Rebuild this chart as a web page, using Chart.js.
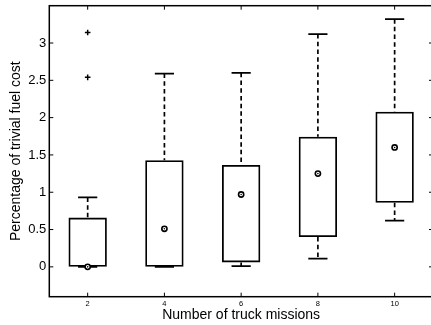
<!DOCTYPE html>
<html>
<head>
<meta charset="utf-8">
<script src="https://cdn.jsdelivr.net/npm/chart.js@4.4.1/dist/chart.umd.min.js"></script>
<style>
  html, body { margin: 0; padding: 0; background: #fff; overflow: hidden; }
</style>
</head>
<body>
<canvas id="boxChart" width="434" height="325"></canvas>
<script>
// Dados

const missions = [2, 4, 6, 8, 10];
const lowerWhisker = [0, 0, 0.01, 0.11, 0.62];
const lowerQuartile = [0, 0, 0.06, 0.40, 0.86];
const medians = [0, 0.51, 0.97, 1.25, 1.60];
const upperQuartile = [0.66, 1.43, 1.365, 1.745, 2.08];
const upperWhisker = [0.93, 2.59, 2.60, 3.12, 3.32];
const outlierMission = [2, 2];
const outlierValue = [2.54, 3.14];
const yTicks = [0, 0.5, 1, 1.5, 2, 2.5, 3];

const capHalf = 0.25; // half width of whisker caps, in x units
const font = '"Liberation Sans", Arial, Helvetica, sans-serif';

// whiskers (dashed) and caps, separated by gaps
const whiskerPts = [];
const capPts = [];
missions.forEach((m, i) => {
    whiskerPts.push({x: m, y: upperWhisker[i]}, {x: m, y: upperQuartile[i]}, {x: m, y: null});
    whiskerPts.push({x: m, y: lowerQuartile[i]}, {x: m, y: lowerWhisker[i]}, {x: m, y: null});
    capPts.push({x: m - capHalf, y: upperWhisker[i]}, {x: m + capHalf, y: upperWhisker[i]}, {x: m, y: null});
    capPts.push({x: m - capHalf, y: lowerWhisker[i]}, {x: m + capHalf, y: lowerWhisker[i]}, {x: m, y: null});
});

const data = {
    datasets: [
        {
            type: 'bar',
            data: missions.map((m, i) => ({x: m, y: [lowerQuartile[i], upperQuartile[i]]})),
            backgroundColor: 'rgba(0,0,0,0)',
            borderColor: '#000',
            borderWidth: 1.8,
            borderSkipped: false,
            barPercentage: 0.5,
            categoryPercentage: 1,
            order: 3
        },
        {
            type: 'line',
            data: whiskerPts,
            borderColor: '#000',
            borderWidth: 1.7,
            borderDash: [4.5, 3.2],
            pointRadius: 0,
            spanGaps: false,
            fill: false,
            order: 4
        },
        {
            type: 'line',
            data: capPts,
            borderColor: '#000',
            borderWidth: 1.8,
            pointRadius: 0,
            spanGaps: false,
            fill: false,
            order: 4
        },
        {
            type: 'line',
            data: missions.map((m, i) => ({x: m, y: medians[i]})),
            showLine: false,
            pointStyle: 'circle',
            pointRadius: 2.6,
            pointBorderWidth: 1.6,
            pointBorderColor: '#000',
            pointBackgroundColor: '#fff',
            order: 1
        },
        {
            type: 'line',
            data: missions.map((m, i) => ({x: m, y: medians[i]})),
            showLine: false,
            pointStyle: 'circle',
            pointRadius: 0.8,
            pointBorderWidth: 0,
            pointBackgroundColor: '#000',
            order: 0
        },
        {
            type: 'line',
            data: outlierMission.map((m, i) => ({x: m, y: outlierValue[i]})),
            showLine: false,
            pointStyle: 'cross',
            pointRadius: 2.8,
            pointBorderWidth: 1.5,
            pointBorderColor: '#000',
            order: 0
        }
    ]
};

// moldura e marcas internas
const frame = {
    id: 'frame',
    afterDatasetsDraw(chart) {
        const {ctx, chartArea: a, scales: {x, y}} = chart;
        const t = 4;
        ctx.save();
        ctx.strokeStyle = '#000';
        ctx.lineWidth = 1.5;
        ctx.strokeRect(a.left, a.top, a.right - a.left, a.bottom - a.top);
        ctx.lineWidth = 1;
        ctx.beginPath();
        yTicks.forEach(v => {
            const py = y.getPixelForValue(v);
            ctx.moveTo(a.left, py); ctx.lineTo(a.left + t, py);
            ctx.moveTo(a.right, py); ctx.lineTo(a.right - t, py);
        });
        missions.forEach(v => {
            const px = x.getPixelForValue(v);
            ctx.moveTo(px, a.bottom); ctx.lineTo(px, a.bottom - t);
            ctx.moveTo(px, a.top); ctx.lineTo(px, a.top + t);
        });
        ctx.stroke();
        ctx.restore();
    }
};

// Configurações

const config = {
    type: 'bar',
    data: data,
    options: {
        responsive: false,
        animation: false,
        layout: {autoPadding: false, padding: {top: 5.7, right: 1, bottom: 0, left: 0}},
        plugins: {legend: {display: false}, tooltip: {enabled: false}},
        scales: {
            x: {
                type: 'linear',
                min: 1,
                max: 11,
                offset: false,
                grid: {display: false, drawTicks: false},
                border: {display: false},
                afterBuildTicks: s => { s.ticks = missions.map(v => ({value: v})); },
                afterFit: s => { s.height = 28.3; s.paddingLeft = 0; s.paddingRight = 0; },
                ticks: {
                    color: '#000',
                    padding: 3,
                    maxRotation: 0,
                    font: {family: font, size: 7.5},
                    callback: v => String(v)
                },
                title: {
                    display: true,
                    text: 'Number of truck missions',
                    color: '#000',
                    font: {family: font, size: 14},
                    padding: {top: 0, bottom: 1}
                }
            },
            y: {
                min: -0.4,
                max: 3.5,
                grid: {display: false, drawTicks: false},
                border: {display: false},
                afterBuildTicks: s => { s.ticks = yTicks.map(v => ({value: v})); },
                afterFit: s => { s.width = 49.3; s.paddingTop = 0; s.paddingBottom = 0; },
                ticks: {
                    color: '#000',
                    padding: 3,
                    font: {family: font, size: 13},
                    callback: v => String(v)
                },
                title: {
                    display: true,
                    text: 'Percentage of trivial fuel cost',
                    color: '#000',
                    font: {family: font, size: 14},
                    padding: {top: 7.6, bottom: 0}
                }
            }
        }
    },
    plugins: [frame]
};

// Inicialização

const ctx = document.getElementById('boxChart').getContext('2d');
const myChart = new Chart(ctx, config);
</script>
</body>
</html>
